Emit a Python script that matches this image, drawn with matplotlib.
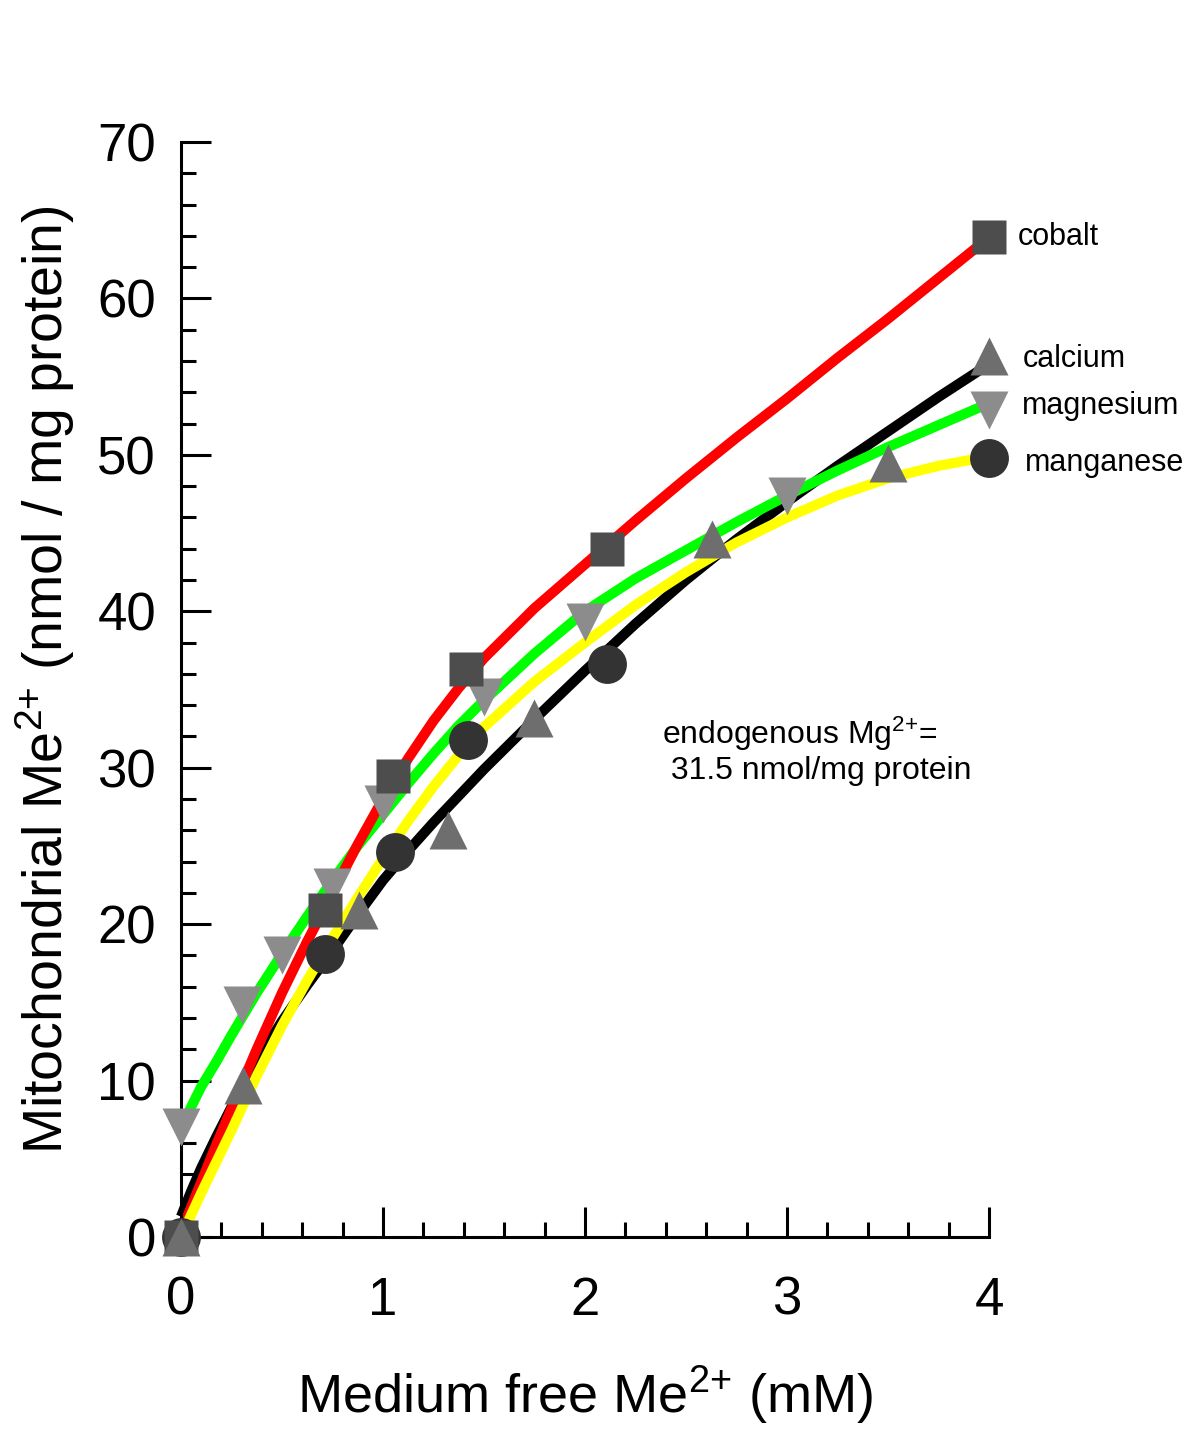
import matplotlib
matplotlib.use('Agg')
import matplotlib.pyplot as plt
from matplotlib.ticker import MultipleLocator

plt.rcParams['font.family'] = ['Liberation Sans', 'DejaVu Sans']
plt.rcParams['mathtext.default'] = 'regular'

# measured points (Medium free Me2+ in mM, mitochondrial Me2+ in nmol/mg protein)
cobalt_x = [0, 0.713, 1.05, 1.41, 2.11, 4.0]
cobalt_y = [0, 20.9, 29.5, 36.3, 44.0, 63.9]
calcium_x = [0, 0.307, 0.88, 1.32, 1.75, 2.63, 3.5, 4.0]
calcium_y = [0, 9.7, 20.9, 26.0, 33.2, 44.6, 49.5, 56.3]
magnesium_x = [0, 0.30, 0.50, 0.75, 1.0, 1.5, 2.0, 3.0, 4.0]
magnesium_y = [7.0, 14.8, 18.0, 22.4, 27.7, 34.5, 39.3, 47.4, 52.9]
manganese_x = [0, 0.713, 1.06, 1.42, 2.11, 4.0]
manganese_y = [0, 18.1, 24.6, 31.8, 36.6, 49.8]

# fitted curves
fit_x = [0, 0.05, 0.1, 0.175, 0.25, 0.375, 0.5, 0.625, 0.75, 0.875, 1.0, 1.125, 1.25,
         1.375, 1.5, 1.75, 2.0, 2.25, 2.5, 2.75, 3.0, 3.25, 3.5, 3.75, 4.0]
fit_cobalt = [0.3, 1.9, 3.5, 5.9, 8.2, 12.0, 15.6, 18.9, 22.0, 25.1, 28.0, 30.6, 33.0,
              35.1, 37.0, 40.2, 43.0, 45.8, 48.5, 51.1, 53.6, 56.2, 58.7, 61.3, 63.9]
fit_calcium = [1.3, 2.9, 4.4, 6.4, 8.3, 11.2, 13.8, 16.1, 18.3, 20.6, 22.8, 24.7, 26.5,
               28.2, 29.9, 33.1, 36.2, 39.2, 42.0, 44.6, 47.0, 49.3, 51.5, 53.7, 55.8]
fit_magnesium = [7.0, 8.3, 9.6, 11.2, 12.9, 15.6, 18.1, 20.5, 22.8, 25.0, 27.0, 29.0, 30.9,
                 32.7, 34.3, 37.3, 40.0, 42.1, 43.9, 45.7, 47.4, 49.0, 50.5, 51.9, 53.3]
fit_manganese = [0, 1.4, 2.8, 4.8, 6.8, 10.3, 13.5, 16.4, 19.1, 21.7, 24.2, 26.6, 28.8,
                 30.8, 32.6, 35.5, 38.0, 40.4, 42.5, 44.4, 46.0, 47.4, 48.5, 49.3, 49.9]

fig = plt.figure(figsize=(12, 14.29), dpi=100)
ax = fig.add_axes([0.1508, 0.1344, 0.6734, 0.7662])

lw = 7.3
for yy, c in [(fit_calcium, 'black'), (fit_magnesium, '#00ff00'),
              (fit_cobalt, '#ff0000'), (fit_manganese, '#ffff00')]:
    ax.plot(fit_x, yy, color=c, lw=lw, clip_on=False, zorder=2,
            solid_joinstyle='round', solid_capstyle='butt')

ax.plot(manganese_x, manganese_y, 'o', ms=28, color='#333333', mec='none', clip_on=False, zorder=3)
ax.plot(magnesium_x, magnesium_y, 'v', ms=28, color='#8c8c8c', mec='none', clip_on=False, zorder=3)
ax.plot(cobalt_x, cobalt_y, 's', ms=24, color='#4d4d4d', mec='none', clip_on=False, zorder=4)
ax.plot(calcium_x, calcium_y, '^', ms=28, color='#6e6e6e', mec='none', clip_on=False, zorder=5)

ax.set_xlim(0, 4)
ax.set_ylim(0, 70)
for s in ['top', 'right']:
    ax.spines[s].set_visible(False)
for s in ['left', 'bottom']:
    ax.spines[s].set_linewidth(2.2)

ax.xaxis.set_major_locator(MultipleLocator(1))
ax.xaxis.set_minor_locator(MultipleLocator(0.2))
ax.yaxis.set_major_locator(MultipleLocator(10))
ax.yaxis.set_minor_locator(MultipleLocator(2))
ax.tick_params(which='both', direction='in', width=2.2, labelsize=38)
ax.tick_params(which='major', length=21.5)
ax.tick_params(which='minor', length=10.8)
ax.tick_params(axis='x', pad=28)
ax.tick_params(axis='y', pad=18)

fig.text(0.4875, 0.0238, r'Medium free Me$^{2{+}}$ (mM)', fontsize=39, ha='center', va='center')
fig.text(0.0375, 0.524, r'Mitochondrial Me$^{2{+}}$ (nmol / mg protein)', fontsize=40,
         rotation=90, ha='center', va='center')

lab = dict(fontsize=22, ha='left', va='center', clip_on=False)
ax.text(4.14, 63.9, 'cobalt', **lab)
ax.text(4.165, 56.1, 'calcium', **lab)
ax.text(4.165, 53.1, 'magnesium', **lab)
ax.text(4.18, 49.5, 'manganese', **lab)

ax.text(2.38, 31.1, 'endogenous Mg$^{2{+}}$=\n 31.5 nmol/mg protein', fontsize=23,
        ha='left', va='center', linespacing=1.1)

fig.savefig('out.png', dpi=100)
